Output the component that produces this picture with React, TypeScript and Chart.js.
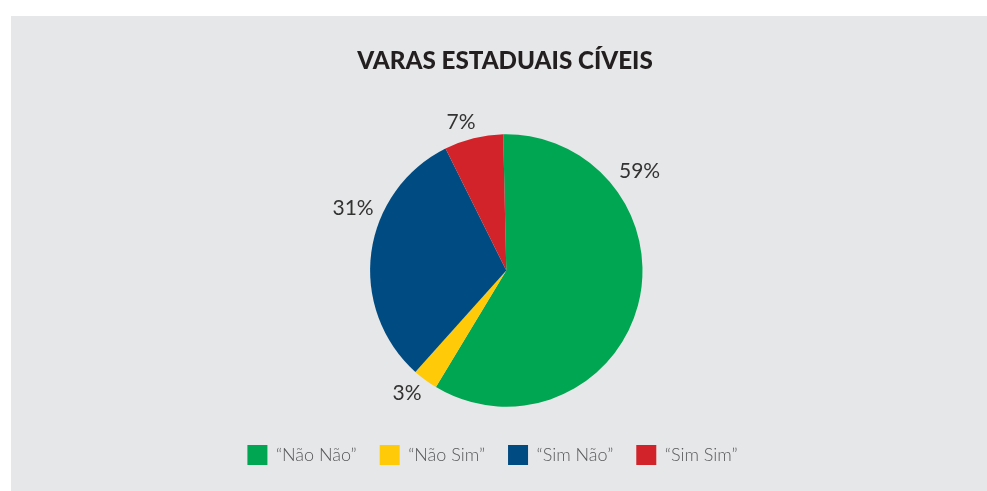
import React, { useEffect, useRef } from "react";
import { Chart, registerables } from "chart.js";

Chart.register(...registerables);

const TITLE = "VARAS ESTADUAIS CÍVEIS";
const CATEGORIES = ["“Não Não”", "“Não Sim”", "“Sim Não”", "“Sim Sim”"];
const VALUES = [59, 3, 31, 7];
const COLORS = ["#00a651", "#ffcb08", "#004b82", "#d2232a"];
// label placement style (angle shift from slice middle in degrees, gap beyond the rim in px)
const LABEL_SHIFT = [-51.9, 2.6, 14.5, -3.0];
const LABEL_GAP = [30.7, 21.1, 29.3, 19.6];

const W = 987;
const H = 491;

const decorPlugin = {
  id: "decor",
  beforeDraw(chart: any) {
    const ctx = chart.ctx;
    ctx.save();
    ctx.fillStyle = "#ffffff";
    ctx.fillRect(0, 0, W, H);
    ctx.fillStyle = "#e6e7e8";
    ctx.fillRect(11, 16, W - 11, H - 16);
    ctx.restore();
  },
  afterDraw(chart: any) {
    const ctx = chart.ctx;
    ctx.save();
    // title
    ctx.fillStyle = "#231f20";
    ctx.font = "900 24.2px Lato";
    ctx.textAlign = "center";
    ctx.textBaseline = "alphabetic";
    ctx.fillText(TITLE, 505, 68.5);

    // percentage labels
    const meta = chart.getDatasetMeta(0);
    const total = VALUES.reduce((a, b) => a + b, 0);
    ctx.font = "21px Lato";
    ctx.fillStyle = "#333333";
    meta.data.forEach((arc: any, i: number) => {
      const p = arc.getProps(["x", "y", "startAngle", "endAngle", "outerRadius"], true);
      const mid = (p.startAngle + p.endAngle) / 2 + (LABEL_SHIFT[i] * Math.PI) / 180;
      const r = p.outerRadius + LABEL_GAP[i];
      const x = p.x + Math.cos(mid) * r;
      const y = p.y + Math.sin(mid) * r;
      const txt = Math.round((VALUES[i] / total) * 100) + "%";
      ctx.textBaseline = "alphabetic";
      ctx.fillText(txt, x, y + 7.5);
    });

    // legend
    ctx.font = "300 18px Lato";
    ctx.textAlign = "left";
    const box = 20;
    const gapText = 8.5;
    const gapItem = 23;
    const widths = CATEGORIES.map((c) => box + gapText + ctx.measureText(c).width);
    const totalW = widths.reduce((a, b) => a + b, 0) + gapItem * (CATEGORIES.length - 1);
    let x = 492.5 - totalW / 2;
    const boxTop = 445;
    CATEGORIES.forEach((c, i) => {
      ctx.fillStyle = COLORS[i];
      ctx.fillRect(x, boxTop, box, box);
      ctx.fillStyle = "#58595b";
      ctx.fillText(c, x + box + gapText, 461);
      x += widths[i] + gapItem;
    });
    ctx.restore();
  },
};

export default function App() {
  const ref = useRef<HTMLCanvasElement | null>(null);
  useEffect(() => {
    if (!ref.current) return;
    const chart = new Chart(ref.current, {
      type: "pie",
      data: {
        labels: CATEGORIES,
        datasets: [
          {
            data: VALUES,
            backgroundColor: COLORS,
            borderWidth: 0,
            hoverOffset: 0,
          },
        ],
      },
      options: {
        responsive: false,
        animation: false,
        events: [],
        rotation: -1.3,
        layout: { padding: { top: 134.3, bottom: 84.3, left: 25.6, right: 0 } },
        plugins: {
          legend: { display: false },
          title: { display: false },
          tooltip: { enabled: false },
        },
      },
      plugins: [decorPlugin],
    });
    return () => chart.destroy();
  }, []);
  return (
    <div style={{ position: "fixed", left: 0, top: 0, width: W, height: H, background: "#fff" }}>
      <canvas ref={ref} width={W} height={H} style={{ display: "block", width: W, height: H }} />
    </div>
  );
}
